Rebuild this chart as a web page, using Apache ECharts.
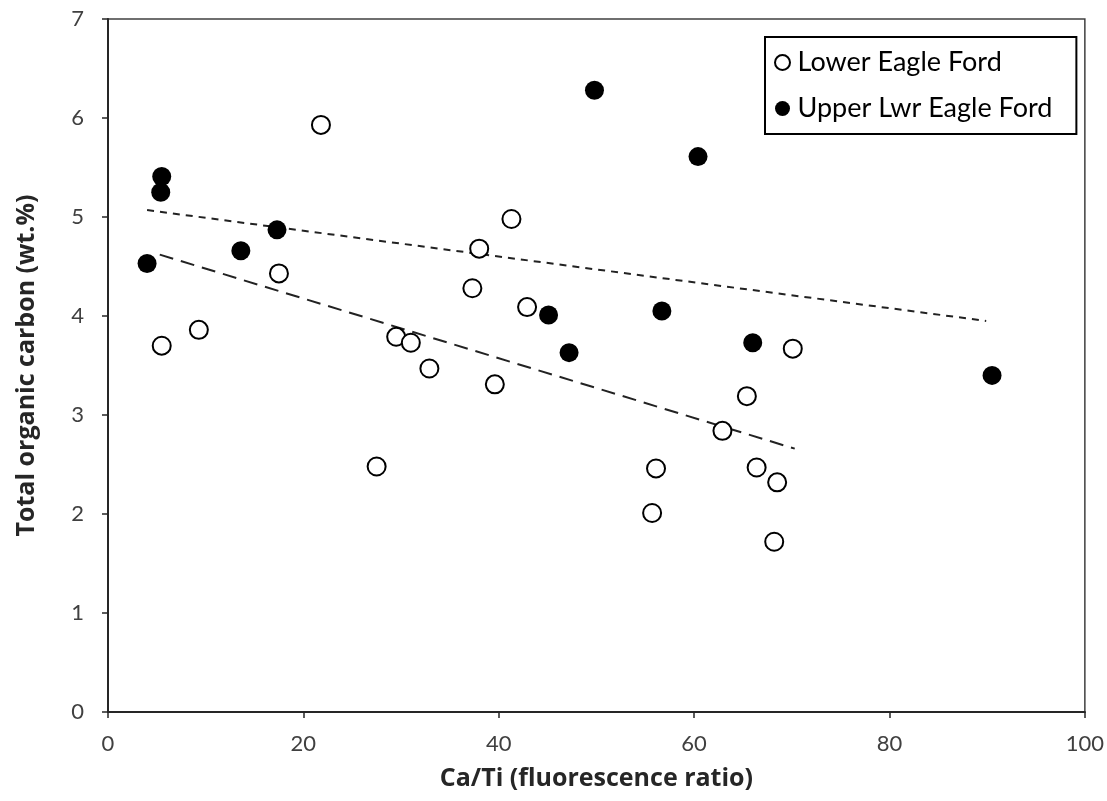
<!DOCTYPE html>
<html><head><meta charset="utf-8">
<script src="https://cdn.jsdelivr.net/npm/echarts@6/dist/echarts.min.js"></script>
<style>html,body{margin:0;padding:0;background:#fff}#c{width:1107px;height:801px}</style>
</head><body><div id="c"></div>
<script>
const lowerName = "Lower Eagle Ford";
const upperName = "Upper Lwr Eagle Ford";
const lowerX = [5.5, 9.3, 21.8, 17.5, 27.5, 29.5, 31.0, 32.9, 37.3, 38.0, 39.6, 41.3, 42.9, 56.1, 55.7, 62.9, 65.4, 66.4, 68.5, 68.2, 70.1];
const lowerY = [3.70, 3.86, 5.93, 4.43, 2.48, 3.79, 3.73, 3.47, 4.28, 4.68, 3.31, 4.98, 4.09, 2.46, 2.01, 2.84, 3.19, 2.47, 2.32, 1.72, 3.67];
const upperX = [4.0, 5.5, 5.4, 13.6, 17.3, 49.8, 60.4, 45.1, 47.2, 56.7, 66.0, 90.5];
const upperY = [4.53, 5.41, 5.25, 4.66, 4.87, 6.28, 5.61, 4.01, 3.63, 4.05, 3.73, 3.40];
const lowerTrendX = [5.3, 70.3];
const lowerTrendY = [4.62, 2.66];
const upperTrendX = [4.0, 89.9];
const upperTrendY = [5.07, 3.95];
const xTitle = "Ca/Ti (fluorescence ratio)";
const yTitle = "Total organic carbon (wt.%)";

const zip = (a, b) => a.map((v, i) => [v, b[i]]);
const font = "Lato, 'Open Sans', sans-serif";
const titleFont = "'Open Sans', Lato, sans-serif";
const axisColor = "#262626";

const chart = echarts.init(document.getElementById('c'), null, {renderer: 'canvas'});
chart.setOption({
  backgroundColor: '#fff',
  animation: false,
  grid: {left: 108, right: 21, top: 19, bottom: 89, show: true, borderColor: '#404040', borderWidth: 1.5},
  legend: {
    orient: 'vertical', left: 765, top: 37,
    data: [lowerName, upperName],
    borderColor: '#000', borderWidth: 2,
    padding: [12, 24, 12, 9], itemGap: 19,
    itemWidth: 20, itemHeight: 15,
    textStyle: {fontFamily: font, fontSize: 27, color: '#000'}
  },
  xAxis: {
    type: 'value', min: 0, max: 100, interval: 20,
    name: xTitle, nameLocation: 'middle', nameGap: 54,
    nameTextStyle: {fontFamily: titleFont, fontSize: 25, fontWeight: 'bold', color: '#262626'},
    axisLine: {show: true, lineStyle: {color: axisColor, width: 2}},
    axisTick: {show: true, length: 6, lineStyle: {color: axisColor, width: 1.5}},
    axisLabel: {fontFamily: font, fontSize: 22, color: '#404040', margin: 21},
    splitLine: {show: false}
  },
  yAxis: {
    type: 'value', min: 0, max: 7, interval: 1,
    name: yTitle, nameLocation: 'middle', nameGap: 69,
    nameTextStyle: {fontFamily: titleFont, fontSize: 25, fontWeight: 'bold', color: '#262626'},
    axisLine: {show: true, lineStyle: {color: axisColor, width: 2}},
    axisTick: {show: true, length: 6, lineStyle: {color: axisColor, width: 1.5}},
    axisLabel: {fontFamily: font, fontSize: 22, color: '#404040', margin: 24},
    splitLine: {show: false}
  },
  series: [
    {name: 'lowerTrend', type: 'line', data: zip(lowerTrendX, lowerTrendY), symbol: 'none',
     lineStyle: {color: '#222', width: 2, type: [14, 8]}, z: 1, silent: true},
    {name: 'upperTrend', type: 'line', data: zip(upperTrendX, upperTrendY), symbol: 'none',
     lineStyle: {color: '#222', width: 2, type: [7, 6]}, z: 1, silent: true},
    {name: lowerName, type: 'scatter', data: zip(lowerX, lowerY), symbol: 'circle', symbolSize: 18,
     itemStyle: {color: '#fff', borderColor: '#000', borderWidth: 2, opacity: 1}, z: 3},
    {name: upperName, type: 'scatter', data: zip(upperX, upperY), symbol: 'circle', symbolSize: 19,
     itemStyle: {color: '#000', opacity: 1}, z: 3}
  ]
});
</script></body></html>
